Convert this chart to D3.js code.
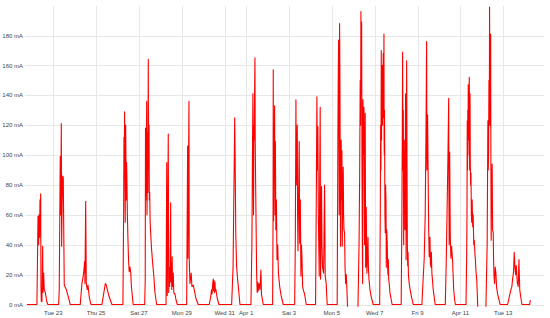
<!DOCTYPE html>
<html>
<head>
<meta charset="utf-8">
<script src="https://cdn.jsdelivr.net/npm/d3@7"></script>
<style>
  body { margin: 0; background: #fff; }
  text { font-family: "Liberation Sans", Arial, sans-serif; }
</style>
</head>
<body>
<div class="canvas"></div>
<script>
// graph setup
const dims = { width: 550, height: 318 }
const plot = { left: 25, right: 544, top: 6, bottom: 304.5 }

// days covered by the log
const dayDates = [
  '2021-03-21', '2021-03-22', '2021-03-23', '2021-03-24', '2021-03-25',
  '2021-03-26', '2021-03-27', '2021-03-28', '2021-03-29', '2021-03-30',
  '2021-03-31', '2021-04-01', '2021-04-02', '2021-04-03', '2021-04-04',
  '2021-04-05', '2021-04-06', '2021-04-07', '2021-04-08', '2021-04-09',
  '2021-04-10', '2021-04-11', '2021-04-12', '2021-04-13', '2021-04-14'
]

// readings per day: [hour of day, mA] (null = no data)
const dayReadings = [
  [[18.5, 0]],
  [[5.7, 0], [6.9, 59], [7.2, 45], [7.6, 40], [8.0, 60], [8.4, 58], [8.7, 45], [9.1, 70], [9.5, 62], [9.9, 74], [10.2, 12], [10.6, 2], [11.3, 2], [12.1, 39], [12.5, 8], [13.2, 21], [13.9, 10], [15.1, 8], [16.7, 2], [17.9, 0]],
  [[6.0, 0], [6.7, 10], [7.8, 99], [8.3, 60], [9.0, 121], [9.4, 39], [10.0, 70], [10.5, 86], [11.2, 85], [12.3, 13], [14.6, 10], [16.5, 6], [19.0, 0]],
  [[6.2, 0], [8.1, 14], [10.0, 21], [11.2, 29], [11.5, 14], [12.3, 69], [13.0, 14], [14.1, 10], [14.9, 13], [16.3, 5], [18.2, 0]],
  [[6.5, 0], [8.4, 7], [10.3, 14], [11.4, 13], [12.5, 10], [14.7, 5], [17.7, 0]],
  [[6.0, 0], [6.8, 60], [7.2, 112], [7.5, 85], [7.9, 129], [8.2, 90], [8.6, 55], [8.9, 105], [9.1, 120], [9.4, 97], [9.8, 70], [10.1, 95], [10.4, 88], [11.0, 60], [11.6, 45], [12.3, 30], [13.0, 22], [14.0, 25], [14.8, 21], [15.5, 12], [17.5, 0]],
  [[6.4, 0], [7.0, 16], [7.3, 118], [7.6, 70], [7.9, 95], [8.3, 100], [8.6, 136], [9.0, 60], [9.4, 90], [9.8, 115], [10.1, 75], [10.4, 164], [10.8, 90], [11.3, 120], [11.6, 70], [12.0, 75], [12.5, 55], [13.1, 48], [14.0, 38], [15.0, 30], [16.5, 20], [17.9, 8], [19.8, 0]],
  [[6.3, 0], [7.1, 95], [7.4, 20], [7.7, 6], [8.3, 60], [8.8, 114], [9.3, 8], [9.8, 25], [10.3, 12], [10.8, 20], [11.5, 68], [11.8, 15], [12.3, 28], [12.7, 10], [13.2, 32], [13.6, 12], [14.4, 21], [15.0, 8], [16.3, 7], [17.5, 3], [19.0, 0]],
  [[5.4, 0], [6.5, 106], [6.8, 31], [7.4, 80], [8.0, 136], [8.3, 31], [9.1, 14], [10.5, 21], [11.3, 12], [12.8, 13], [13.9, 10], [15.8, 4], [18.4, 0]],
  [[6.7, 0], [8.3, 5], [9.3, 10], [9.9, 7], [10.6, 14], [11.2, 17], [11.6, 9], [12.1, 16], [12.6, 8], [13.1, 15], [13.6, 9], [14.2, 10], [15.7, 4], [17.6, 0]],
  [[7.8, 0], [9.4, 25], [10.2, 70], [10.8, 100], [11.2, 125], [11.7, 99], [12.4, 48], [13.4, 25], [14.6, 16], [15.6, 10], [17.1, 0]],
  [[5.4, 0], [6.5, 41], [7.0, 90], [7.6, 141], [8.3, 60], [8.7, 120], [9.1, 110], [9.5, 140], [9.9, 165], [10.2, 110], [10.5, 90], [11.0, 63], [11.8, 20], [12.4, 8], [13.0, 15], [13.6, 9], [14.5, 14], [15.5, 10], [16.6, 23], [17.2, 7], [19.2, 0]],
  [[5.7, 0], [6.2, 60], [6.4, 157], [6.8, 56], [7.2, 116], [7.5, 90], [7.9, 133], [8.4, 60], [8.8, 109], [9.3, 50], [9.9, 70], [10.6, 30], [11.4, 40], [12.2, 21], [13.6, 12], [15.2, 6], [17.6, 0]],
  [[6.4, 0], [7.1, 41], [7.8, 137], [8.2, 80], [8.6, 92], [9.3, 120], [9.7, 60], [10.1, 36], [10.8, 70], [11.5, 109], [12.0, 41], [12.7, 70], [13.4, 19], [14.0, 40], [14.6, 31], [15.3, 12], [16.0, 10], [17.5, 7], [19.4, 0]],
  [[5.8, 0], [6.6, 70], [7.3, 139], [7.8, 90], [8.4, 119], [8.9, 60], [9.9, 19], [10.5, 90], [11.0, 132], [11.4, 17], [12.0, 50], [12.5, 79], [13.0, 40], [13.6, 25], [14.8, 21], [15.9, 80], [16.6, 19], [17.7, 14], [18.8, 0]],
  [[6.0, 0], [6.8, 114], [7.2, 150], [7.6, 177], [8.0, 120], [8.3, 60], [8.7, 188], [9.1, 150], [9.4, 90], [9.8, 39], [10.1, 80], [10.5, 110], [10.9, 70], [11.3, 103], [11.7, 39], [12.2, 70], [12.8, 92], [13.2, 60], [13.6, 50], [14.3, 48], [14.8, 25], [15.5, 14], [16.2, 20], [16.9, 10], [17.6, -1.5], [17.7, null]],
  [[5.3, -1.5], [6.5, 40], [7.2, 87], [7.8, 150], [8.2, 120], [8.6, 196], [8.9, 140], [9.1, 175], [9.4, 189], [9.8, 90], [10.1, 50], [10.5, 14], [10.9, 137], [11.3, 100], [11.6, 125], [12.0, 132], [12.3, 80], [12.7, 40], [13.0, 90], [13.4, 128], [13.9, 25], [14.3, 50], [14.6, 65], [15.0, 35], [15.3, 21], [16.0, 35], [16.5, 45], [17.0, 25], [17.6, 17], [18.7, 10], [20.2, 5], [22.4, 0]],
  [[5.6, 0], [6.3, 60], [6.7, 120], [7.0, 90], [7.4, 170], [7.7, 110], [8.0, 150], [8.2, 126], [8.5, 160], [8.8, 120], [9.0, 150], [9.3, 130], [9.6, 168], [9.9, 125], [10.2, 150], [10.4, 181], [10.6, 110], [10.8, 100], [11.0, 130], [11.2, 105], [11.5, 60], [11.9, 48], [12.2, 80], [12.7, 70], [13.0, 25], [13.5, 50], [14.1, 41], [14.5, 25], [14.9, 20], [15.3, 30], [15.7, 17], [16.3, 14], [17.1, 8], [19.5, 0]],
  [[5.7, 0], [6.5, 60], [7.0, 120], [7.3, 169], [7.8, 90], [8.1, 130], [8.5, 40], [8.8, 100], [9.2, 70], [9.6, 110], [9.9, 50], [10.3, 90], [10.6, 141], [11.0, 90], [11.2, 30], [11.5, 100], [11.8, 163], [12.3, 83], [12.6, 40], [13.0, 26], [13.4, 35], [13.8, 20], [14.7, 14], [15.7, 10], [17.3, 5], [19.2, 0]],
  [[4.9, 0], [5.7, 10], [7.5, 31], [8.6, 60], [9.4, 110], [10.2, 176], [10.5, 90], [10.8, 110], [11.3, 127], [12.0, 79], [12.5, 50], [13.1, 32], [13.9, 45], [14.4, 28], [15.0, 25], [15.5, 35], [16.1, 21], [17.6, 10], [19.8, 0]],
  [[7.1, 0], [8.2, 30], [9.3, 70], [10.1, 100], [10.9, 138], [11.2, 70], [11.5, 40], [12.0, 102], [12.7, 45], [13.4, 31], [14.2, 39], [15.3, 29], [16.5, 10], [17.6, 3], [18.4, 0]],
  [[6.3, 0], [7.0, 30], [7.4, 60], [7.7, 123], [8.0, 90], [8.3, 130], [8.5, 100], [8.8, 147], [9.0, 115], [9.3, 110], [9.6, 140], [10.0, 152], [10.2, 105], [10.4, 90], [10.6, 130], [10.8, 141], [11.1, 95], [11.5, 80], [11.9, 88], [12.3, 60], [12.7, 55], [13.2, 70], [13.8, 52], [14.3, 60], [15.0, 40], [15.6, 43], [16.2, 35], [16.7, 31], [17.5, 22], [18.3, 17], [19.5, -1.5], [19.6, null]],
  [[4.6, -1.5], [6.0, 40], [6.8, 123], [7.2, 90], [7.6, 100], [8.0, 150], [8.4, 120], [8.7, 199], [9.0, 130], [9.4, 150], [9.7, 120], [9.9, 181], [10.2, 90], [10.5, 43], [11.0, 80], [11.6, 94], [12.1, 50], [12.8, 48], [13.2, 30], [13.6, 20], [14.3, 14], [15.0, 25], [15.8, 21], [16.5, 12], [17.7, 7], [20.6, 0]],
  [[4.9, 0], [6.7, 5], [8.6, 10], [9.7, 12], [10.5, 17], [11.6, 22], [12.3, 35], [13.1, 25], [13.9, 20], [14.6, 26], [15.7, 15], [16.8, 12], [17.6, 30], [18.5, 10], [19.6, 5], [21.0, 0]],
  [[5.6, 0], [6.3, 3]]
]

// axis ticks
const xTickDates = [
  '2021-03-23', '2021-03-25', '2021-03-27', '2021-03-29', '2021-03-31', '2021-04-01',
  '2021-04-03', '2021-04-05', '2021-04-07', '2021-04-09', '2021-04-11', '2021-04-13'
]
const xTickLabels = [
  'Tue 23', 'Thu 25', 'Sat 27', 'Mon 29', 'Wed 31', 'Apr 1',
  'Sat 3', 'Mon 5', 'Wed 7', 'Fri 9', 'Apr 11', 'Tue 13'
]
const yTicks = [0, 20, 40, 60, 80, 100, 120, 140, 160, 180]

const parseDay = d3.timeParse('%Y-%m-%d')

// flatten readings into timestamped points
const data = []
dayDates.forEach((day, i) => {
  const base = parseDay(day)
  dayReadings[i].forEach(([h, v]) => {
    data.push({ date: new Date(base.getTime() + h * 3600e3), value: v })
  })
})

// create SVG
const svg = d3.select('.canvas')
  .append('svg')
  .attr('width', dims.width)
  .attr('height', dims.height)

// scales
const x = d3.scaleTime()
  .domain([new Date(2021, 2, 21, 16, 20), new Date(2021, 3, 14, 21, 40)])
  .range([plot.left, plot.right])

const y = d3.scaleLinear()
  .domain([0, 180])
  .range([plot.bottom, 35.5])

// horizontal grid + y labels
const yGrid = svg.append('g')
yGrid.selectAll('line')
  .data(yTicks)
  .enter()
  .append('line')
  .attr('x1', plot.left)
  .attr('x2', plot.right)
  .attr('y1', d => Math.round(y(d)) + 0.5)
  .attr('y2', d => Math.round(y(d)) + 0.5)
  .attr('stroke', '#e8e8e8')
  .attr('stroke-width', 1)

yGrid.selectAll('text')
  .data(yTicks)
  .enter()
  .append('text')
  .attr('x', 23)
  .attr('y', d => y(d) + 2.2)
  .attr('text-anchor', 'end')
  .attr('font-size', '6px')
  .attr('fill', '#444')
  .text(d => `${d} mA`)

// vertical grid + x labels
const xTicks = xTickDates.map(parseDay)
const xGrid = svg.append('g')
xGrid.selectAll('line')
  .data(xTicks)
  .enter()
  .append('line')
  .attr('x1', d => Math.round(x(d)) + 0.5)
  .attr('x2', d => Math.round(x(d)) + 0.5)
  .attr('y1', plot.top)
  .attr('y2', 307)
  .attr('stroke', '#e8e8e8')
  .attr('stroke-width', 1)

xGrid.selectAll('text')
  .data(xTicks)
  .enter()
  .append('text')
  .attr('x', d => x(d))
  .attr('y', 315)
  .attr('text-anchor', 'middle')
  .attr('font-size', '6px')
  .attr('fill', '#444')
  .text((d, i) => xTickLabels[i])

// current line
const line = d3.line()
  .defined(d => d.value !== null)
  .x(d => x(d.date))
  .y(d => y(d.value))

svg.append('path')
  .datum(data)
  .attr('fill', 'none')
  .attr('stroke', '#ff0000')
  .attr('stroke-width', 1.1)
  .attr('stroke-linejoin', 'round')
  .attr('d', line)
</script>
</body>
</html>
